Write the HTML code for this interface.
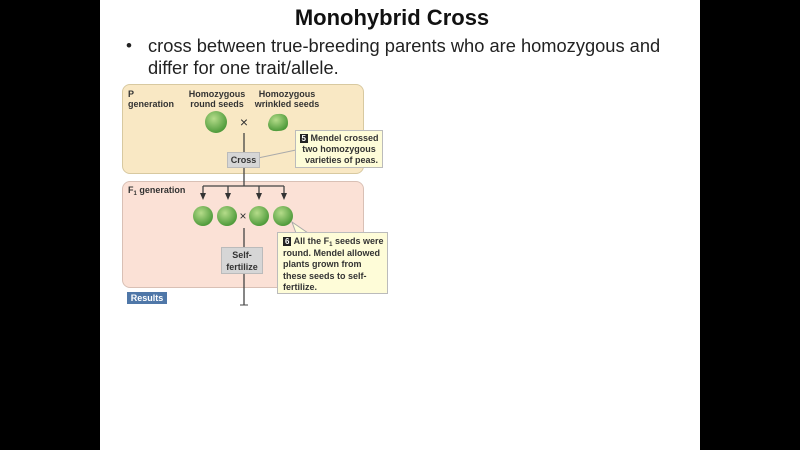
<!DOCTYPE html>
<html><head><style>
body{margin:0;width:800px;height:450px;background:#000;position:relative;overflow:hidden;font-family:"Liberation Sans",sans-serif}
.slide{position:absolute;left:100px;top:0;width:600px;height:450px;background:#fff}
.a{position:absolute}
.t{font-weight:bold;font-size:9px;color:#333;line-height:10px}
.s{font-size:6px;position:relative;top:2px;line-height:0}
</style></head><body>
<div class="slide"></div>
<div class="a" style="left:0;width:800px;top:5px;text-align:center;font-size:22px;font-weight:bold;color:#111"><span style="position:relative;left:-8px">Monohybrid Cross</span></div>
<div class="a" style="left:126px;top:36px;font-size:17px;color:#222">•</div>
<div class="a" style="left:148px;top:35px;font-size:18.3px;color:#222;line-height:22px;width:530px">cross between true-breeding parents who are homozygous and differ for one trait/allele.</div>

<div class="a" style="left:122px;top:84px;width:240px;height:88px;background:#f9e8c4;border:1px solid #d8c9a0;border-radius:8px"></div>
<div class="a" style="left:122px;top:181px;width:240px;height:105px;background:#fbe1d6;border:1px solid #d9c0b5;border-radius:8px"></div>

<div class="a t" style="left:128px;top:89px">P<br>generation</div>
<div class="a t" style="left:187px;top:89px;text-align:center;width:60px">Homozygous<br>round seeds</div>
<div class="a t" style="left:252px;top:89px;text-align:center;width:70px">Homozygous<br>wrinkled seeds</div>
<div class="a t" style="left:128px;top:185px">F<span class="s">1</span> generation</div>

<svg class="a" style="left:0;top:0" width="800" height="450">
<defs><radialGradient id="g" cx="40%" cy="35%" r="65%"><stop offset="0" stop-color="#b5dc8a"/><stop offset="1" stop-color="#4e9a3a"/></radialGradient></defs>
<circle cx="216" cy="122" r="11" fill="url(#g)"/>
<path d="M268,124 q2,-10 10,-10 q10,-1 10,9 q0,8 -10,8 q-10,1 -10,-7z" fill="url(#g)"/>
<text x="244" y="127" font-size="14" text-anchor="middle" fill="#333" font-family="Liberation Sans">×</text>
<line x1="244" y1="133" x2="244" y2="186" stroke="#444" stroke-width="1.3"/>
<line x1="203" y1="186" x2="284" y2="186" stroke="#444" stroke-width="1.3"/>
<g stroke="#444" stroke-width="1.3">
<line x1="203" y1="186" x2="203" y2="194"/><line x1="228" y1="186" x2="228" y2="194"/><line x1="259" y1="186" x2="259" y2="194"/><line x1="284" y1="186" x2="284" y2="194"/></g>
<g fill="#333">
<path d="M200,193 L206,193 L203,200z"/><path d="M225,193 L231,193 L228,200z"/><path d="M256,193 L262,193 L259,200z"/><path d="M281,193 L287,193 L284,200z"/></g>
<circle cx="203" cy="216" r="10" fill="url(#g)"/><circle cx="227" cy="216" r="10" fill="url(#g)"/>
<circle cx="259" cy="216" r="10" fill="url(#g)"/><circle cx="283" cy="216" r="10" fill="url(#g)"/>
<text x="243" y="220" font-size="12" text-anchor="middle" fill="#333" font-family="Liberation Sans">×</text>
<line x1="244" y1="228" x2="244" y2="305" stroke="#444" stroke-width="1.3"/>
<line x1="240" y1="305" x2="248" y2="305" stroke="#444" stroke-width="1"/>
<line x1="258" y1="158" x2="296" y2="150" stroke="#aaa"/>
<path d="M292,222 L308,233 L296,233z" fill="#fefcd8" stroke="#aaa"/>
</svg>

<div class="a t" style="left:227px;top:152px;width:31px;height:14px;background:#d6d6d6;border:1px solid #bbb;text-align:center;line-height:14px">Cross</div>
<div class="a t" style="left:221px;top:247px;width:42px;height:27px;background:#d6d6d6;border:1px solid #bbb;text-align:center;line-height:12px;padding-top:1px;box-sizing:border-box">Self-<br>fertilize</div>

<div class="a t" style="left:295px;top:130px;width:88px;height:38px;background:#fefcd8;border:1px solid #bbb;box-sizing:border-box;padding:2px 0 0 0;text-align:center;line-height:11px"><span style="background:#222;color:#fff;padding:0 2px;font-size:8px">5</span> Mendel crossed<br>two homozygous<br>&nbsp;&nbsp;varieties of peas.</div>
<div class="a t" style="left:277px;top:232px;width:111px;height:62px;background:#fefcd8;border:1px solid #bbb;box-sizing:border-box;padding:3px 0 0 5px;line-height:11.5px"><span style="background:#222;color:#fff;padding:0 2px;font-size:8px">6</span> All the F<span class="s">1</span> seeds were<br>round. Mendel allowed<br>plants grown from<br>these seeds to self-<br>fertilize.</div>

<div class="a t" style="left:127px;top:292px;width:40px;height:12px;background:#4f77a8;color:#fff;text-align:center;line-height:12px">Results</div>
</body></html>
